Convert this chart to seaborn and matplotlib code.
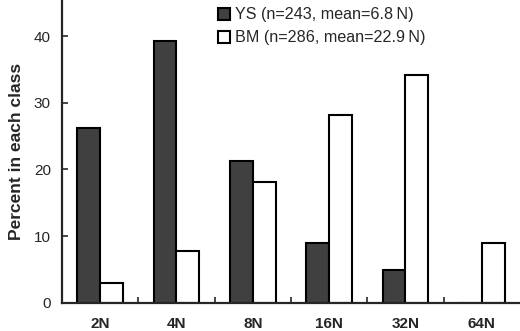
import numpy as np
import pandas as pd
import seaborn as sns
import matplotlib
matplotlib.use('Agg')
import matplotlib.pyplot as plt

classes = ['2N', '4N', '8N', '16N', '32N', '64N']
ys_pct = [26.2, 39.2, 21.2, 9.0, 5.0, 0.0]
bm_pct = [3.0, 7.8, 18.1, 28.1, 34.1, 9.0]
series = ['YS (n=243, mean=6.8\u2009N)', 'BM (n=286, mean=22.9\u2009N)']
colors = ['#404040', 'white']

sns.set_style('ticks')
plt.rcParams['font.family'] = ['Liberation Sans', 'DejaVu Sans']

df = pd.DataFrame({
    'cls': classes * 2,
    'pct': ys_pct + bm_pct,
    'series': [series[0]] * len(classes) + [series[1]] * len(classes),
})

fig = plt.figure(figsize=(5.2, 3.31), dpi=100)
ax = fig.add_axes([0.119, 0.085, 0.881, 0.915])

sns.barplot(data=df, x='cls', y='pct', hue='series', order=classes,
            hue_order=series, palette=dict(zip(series, colors)),
            width=0.6, gap=0, edgecolor='black', linewidth=1.5,
            saturation=1, ax=ax)

ax.set_xlim(-0.5, 5.5)
ax.set_ylim(0, 45.4)
ax.set_yticks([0, 10, 20, 30, 40])
ax.set_xlabel('')
ax.set_ylabel('Percent in each class', fontsize=12.5, fontweight='bold', labelpad=7)

ax.tick_params(axis='y', direction='in', length=4, width=1.2, labelsize=11, pad=8)
ax.tick_params(axis='x', which='major', length=0, labelsize=11, pad=10)
for lab in ax.get_xticklabels():
    lab.set_fontweight('bold')
ax.set_xticks(np.arange(0.5, 5.0, 1.0), minor=True)
ax.tick_params(axis='x', which='minor', direction='in', length=4, width=1.2)

sns.despine(ax=ax)
ax.spines['left'].set_linewidth(1.6)
ax.spines['bottom'].set_linewidth(1.6)

ax.legend(loc='upper left', bbox_to_anchor=(0.33, 0.992), frameon=False,
          fontsize=11.6, handlelength=0.75, handleheight=0.75, handletextpad=0.3,
          labelspacing=0.5, borderaxespad=0, borderpad=0.3)

fig.savefig('out.png', dpi=100)
